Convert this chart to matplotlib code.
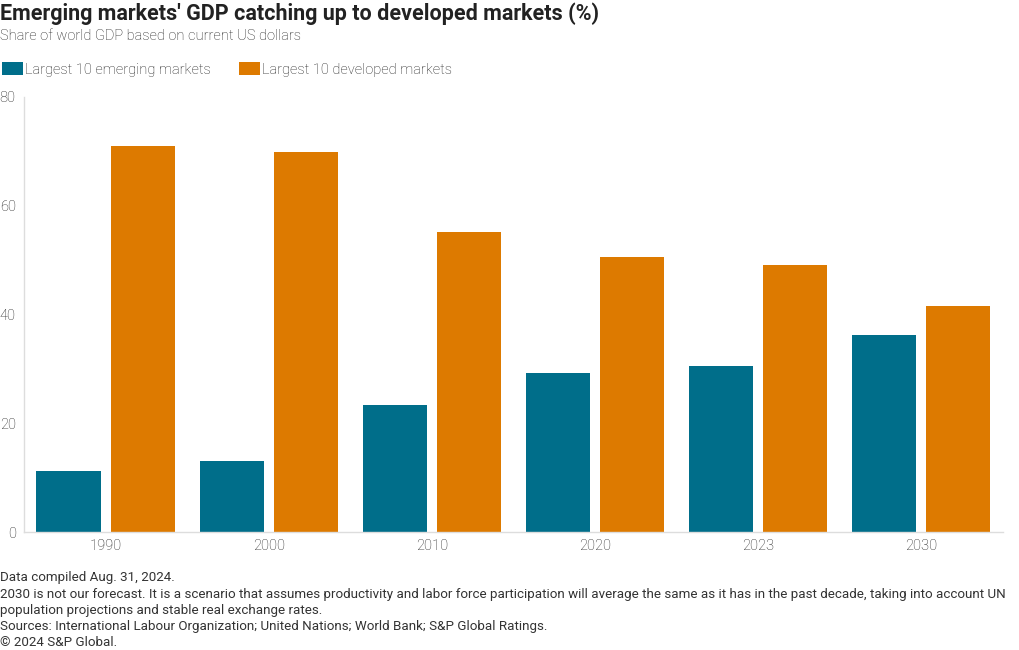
import matplotlib.pyplot as plt
import numpy as np

years = ['1990', '2000', '2010', '2020', '2023', '2030']
emerging = [11.2, 13.1, 23.3, 29.2, 30.5, 36.2]
developed = [71.0, 69.9, 55.1, 50.6, 49.1, 41.5]

teal = '#006E8A'
orange = '#DD7A00'
grey_txt = '#222222'

plt.rcParams['font.family'] = ['Roboto', 'DejaVu Sans']

fig = plt.figure(figsize=(10.2, 6.5), dpi=100)
ax = fig.add_axes([0.0235, 0.1815, 0.9595, 0.6695])

x = np.arange(len(years))
w = 0.393
gap = 0.061
b1 = ax.bar(x - (w + gap) / 2, emerging, w, color=teal, label='Largest 10 emerging markets')
b2 = ax.bar(x + (w + gap) / 2, developed, w, color=orange, label='Largest 10 developed markets')

ax.set_xlim(-0.5, len(years) - 0.5)
ax.set_ylim(0, 80)
ax.set_yticks([0, 20, 40, 60, 80])
ax.set_xticks(x)
ax.set_xticklabels(years)
ax.tick_params(axis='both', length=0, labelsize=10.5, colors=grey_txt)
ax.tick_params(axis='y', pad=6)
ax.tick_params(axis='x', pad=5)
for lab in ax.get_xticklabels() + ax.get_yticklabels():
    lab.set_fontweight('light')
for s in ['top', 'right']:
    ax.spines[s].set_visible(False)
for s in ['left', 'bottom']:
    ax.spines[s].set_color('#dddddd')
    ax.spines[s].set_linewidth(1)

# 标题
fig.text(0.0, 0.997, "Emerging markets' GDP catching up to developed markets (%)",
         fontsize=15.5, fontweight='bold', color='#222222', va='top', ha='left')
fig.text(0.0, 0.956, 'Share of world GDP based on current US dollars',
         fontsize=10.5, fontweight='light', color='#222222', va='top', ha='left')

leg = fig.legend(handles=[b1, b2], loc='upper left', bbox_to_anchor=(-0.004, 0.913), ncol=2,
                 frameon=False, fontsize=10.5, handlelength=1.45, handleheight=1.0,
                 handletextpad=0.15, columnspacing=1.9, labelcolor='#222222', borderaxespad=0)
for t in leg.get_texts():
    t.set_fontweight('light')

# 脚注
notes = ['Data compiled Aug. 31, 2024.',
         '2030 is not our forecast. It is a scenario that assumes productivity and labor force participation will average the same as it has in the past decade, taking into account UN',
         'population projections and stable real exchange rates.',
         'Sources: International Labour Organization; United Nations; World Bank; S&P Global Ratings.',
         '\u00a9 2024 S&P Global.']
for i, line in enumerate(notes):
    fig.text(0.0, 1 - (578 + 16.2 * i) / 650, line, fontsize=9.6, color='#333333',
             va='center', ha='left', family=['Liberation Sans Narrow', 'Roboto', 'DejaVu Sans'])

fig.savefig('out.png', dpi=100)
